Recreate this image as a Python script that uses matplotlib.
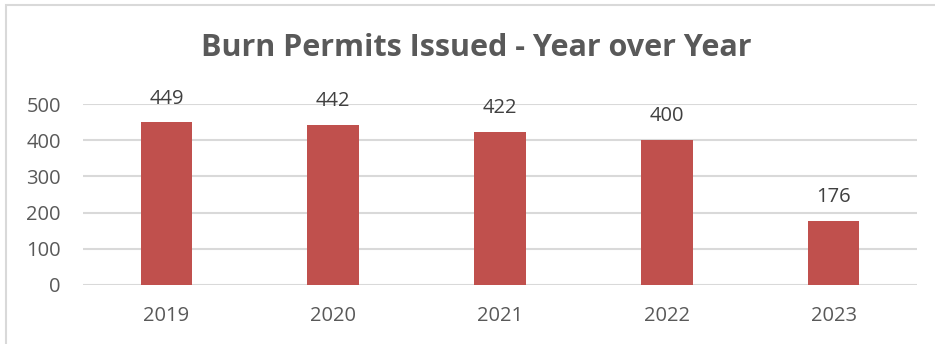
import matplotlib
matplotlib.use("Agg")
import matplotlib.pyplot as plt
from matplotlib.patches import Rectangle

years = ["2019", "2020", "2021", "2022", "2023"]
permits = [449, 442, 422, 400, 176]
yticks = [0, 100, 200, 300, 400, 500]
title = "Burn Permits Issued - Year over Year"

TXT = "#595959"
LBL = "#404040"
BAR = "#C0504D"
GRID = "#D9D9D9"
FONT = ["Open Sans", "DejaVu Sans"]

W, H = 935, 344
fig = plt.figure(figsize=(W / 100, H / 100), dpi=100)
fig.patch.set_facecolor("white")

# outer chart border
fig.add_artist(Rectangle((6 / W, -0.05), 1.2, (H - 5) / H + 0.05, transform=fig.transFigure,
                         fill=False, edgecolor=GRID, linewidth=1.5))

ax = fig.add_axes([83 / W, (H - 285) / H, (917 - 83) / W, (285 - 104) / H])
x = list(range(len(years)))
ax.bar(x, permits, width=0.31, color=BAR, zorder=3)
ax.set_xlim(-0.5, len(years) - 0.5)
ax.set_ylim(0, 500)
ax.set_yticks(yticks)
ax.set_xticks(x)
ax.set_xticklabels(years)
ax.yaxis.grid(True, color=GRID, linewidth=1.5, zorder=0)
ax.set_axisbelow(True)
for s in ax.spines.values():
    s.set_visible(False)
ax.tick_params(axis="both", length=0, colors=TXT, labelsize=14.5)
ax.tick_params(axis="y", pad=16)
ax.tick_params(axis="x", pad=15)
for lab in ax.get_xticklabels() + ax.get_yticklabels():
    lab.set_fontfamily(FONT)

for xi, v in zip(x, permits):
    ax.annotate(str(v), (xi, v), xytext=(0, 10), textcoords="offset points",
                ha="center", va="bottom", fontsize=14.5, color=LBL, family=FONT)

fig.text(476 / W, 1 - 48 / H, title, ha="center", va="center", fontsize=22,
         fontweight="bold", color=TXT, family=FONT)

fig.savefig("out.png", dpi=100, facecolor="white")
